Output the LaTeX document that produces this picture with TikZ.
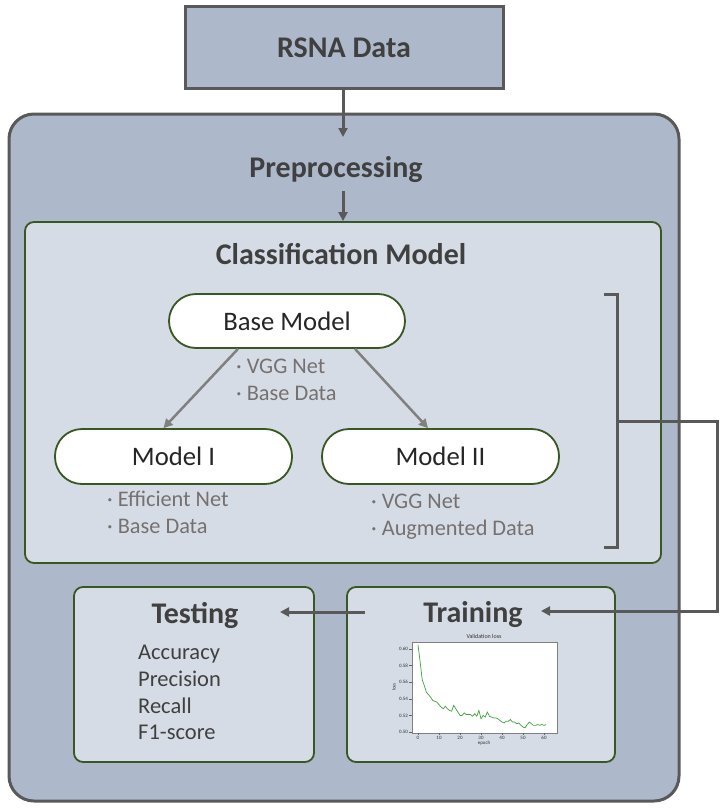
\documentclass[tikz,border=0pt]{standalone}
\usepackage{fontspec}
\setmainfont{Carlito}
\usetikzlibrary{arrows.meta}
\definecolor{outerfill}{HTML}{ADB9CA}
\definecolor{innerfill}{HTML}{D6DCE5}
\definecolor{darkline}{HTML}{595959}
\definecolor{greenline}{HTML}{385723}
\definecolor{txt}{HTML}{404040}
\definecolor{subtxt}{HTML}{767171}
\definecolor{grayarrow}{HTML}{808080}
\definecolor{plotgreen}{HTML}{3BA33B}
\begin{document}
\begin{tikzpicture}[x=1pt,y=-1pt,
  rsnabox/.style={draw=darkline, line width=3pt, fill=outerfill, minimum width=318pt, minimum height=81pt, inner sep=0pt},
  outerbox/.style={draw=darkline, line width=3pt, fill=outerfill, rounded corners=25pt, minimum width=670pt, minimum height=687pt, inner sep=0pt},
  greenbox/.style={draw=greenline, line width=1.8pt, fill=innerfill, rounded corners=9pt, inner sep=0pt},
  modelbox/.style={draw=greenline, line width=1.8pt, fill=white, rounded corners=27pt, inner sep=0pt, minimum height=55pt, minimum width=237pt, text=black!85, font=\fontsize{26.7}{32}\selectfont},
  title/.style={text=txt, font=\bfseries\fontsize{30}{36}\selectfont, anchor=base, inner sep=0pt},
  note/.style={text=subtxt, font=\fontsize{22.3}{26}\selectfont, anchor=base west, inner sep=0pt},
  metric/.style={text=txt, font=\fontsize{22.5}{26}\selectfont, anchor=base west, inner sep=0pt},
  conn/.style={draw=darkline, line width=3pt, -{Triangle[length=9pt,width=9pt]}},
  garrow/.style={draw=grayarrow, line width=2.5pt, -{Triangle[length=9pt,width=9pt]}},
  tiny/.style={font=\fontsize{5}{6}\selectfont, text=black!80, inner sep=1pt}
]
\useasboundingbox (0,0) rectangle (721,808);

% outer container
\node[outerbox] (outer) at (344,457.5) {};
% RSNA box
\node[rsnabox] (rsna) at (344,47.5) {};
\node[title] (rsnaT) at (344,58) {RSNA Data};

\node[title] (prep) at (336,177) {Preprocessing};
\coordinate (prepIn) at (343,137);
\draw[conn] (rsna.south -| prepIn) -- (prepIn);

% classification model box
\node[greenbox, minimum width=636pt, minimum height=341pt] (cls) at (343,392.5) {};
\node[title] (clsT) at (341,264) {Classification Model};
\draw[conn] (cls.north |- 0,191) -- (cls.north);

% models
\node[modelbox, minimum width=236pt, minimum height=54pt] (base) at (287,321) {Base Model};
\node[modelbox] (m1) at (173.5,456.5) {Model I};
\node[modelbox] (m2) at (440.5,456.5) {Model II};

\draw[garrow] ([xshift=-49pt]base.south) -- ([xshift=-10pt]m1.north);
\draw[garrow] ([xshift=68pt]base.south) -- ([xshift=-12.5pt]m2.north);

\node[note] (bn1) at (236,373) {· VGG Net};
\node[note] (bn2) at (236,400) {· Base Data};
\node[note] (mn1) at (107,506) {· Efficient Net};
\node[note] (mn2) at (107,533) {· Base Data};
\node[note] (mm1) at (371,508) {· VGG Net};
\node[note] (mm2) at (371,535) {· Augmented Data};

% bracket
\draw[darkline, line width=3pt] (604,294) -- (617,294) -- (617,547) -- (604,547);
\coordinate (brk) at (617,421);

% testing & training
\node[greenbox, minimum width=240pt, minimum height=175pt] (test) at (194,674.5) {};
\node[greenbox, minimum width=268pt, minimum height=175pt] (train) at (481,674.5) {};
\node[title] (testT) at (195,623) {Testing};
\node[title] (trainT) at (473,622) {Training};

\node[metric] (acc) at (138,659) {Accuracy};
\node[metric] (pre) at (138,686) {Precision};
\node[metric] (rec) at (138,713) {Recall};
\node[metric] (f1) at (138,739) {F1-score};

\coordinate (trIn) at (541,611);
\coordinate (teIn) at (280,612);
\draw[conn] (brk) -- (717,421) |- (trIn);
\draw[conn] (365,612) -- (teIn);

% plot
\node[tiny, font=\fontsize{6}{7}\selectfont, anchor=base] (ptitle) at (484,638) {Validation loss};
\draw[fill=white, draw=black!50, line width=0.6pt] (412,642) rectangle (557,733);
\begin{scope}[shift={(418,732)}, x=2.1pt, y=830pt]
  \foreach \e in {0,10,...,60} {
    \draw[black!60, line width=0.4pt] (\e,-0.0012) -- (\e,-0.004);
    \node[tiny, anchor=north] at (\e,-0.0035) {\e};
  }
  \foreach \v/\l in {0/0.50,0.02/0.52,0.04/0.54,0.06/0.56,0.08/0.58,0.1/0.60} {
    \draw[black!60, line width=0.4pt] (-2.86,\v) -- (-4.3,\v);
    \node[tiny, anchor=east] at (-4.2,\v) {\l};
  }
  \draw[plotgreen, line width=0.7pt] plot coordinates {
  (0,0.105) (1,0.085) (2,0.063) (3,0.056) (4,0.048) (5,0.045) (6,0.042) (7,0.038)
  (8,0.037) (9,0.036) (10,0.033) (11,0.030) (12,0.028) (13,0.031) (14,0.028)
  (15,0.026) (16,0.025) (17,0.032) (18,0.028) (19,0.024) (20,0.020) (21,0.020)
  (22,0.023) (23,0.021) (24,0.021) (25,0.021) (26,0.019) (27,0.022) (28,0.019)
  (29,0.026) (30,0.016) (31,0.020) (32,0.018) (33,0.024) (34,0.019) (35,0.018)
  (36,0.017) (37,0.017) (38,0.016) (39,0.014) (40,0.012) (41,0.011) (42,0.013)
  (43,0.013) (44,0.015) (45,0.012) (46,0.012) (47,0.010) (48,0.011) (49,0.008)
  (50,0.006) (51,0.005) (52,0.009) (53,0.012) (54,0.010) (55,0.008) (56,0.008)
  (57,0.009) (58,0.008) (59,0.009) (60,0.008) (61,0.009)};
\end{scope}
\node[tiny] (xlab) at (484,743) {epoch};
\node[tiny, rotate=90] (ylab) at (394,687) {loss};
\end{tikzpicture}
\end{document}
